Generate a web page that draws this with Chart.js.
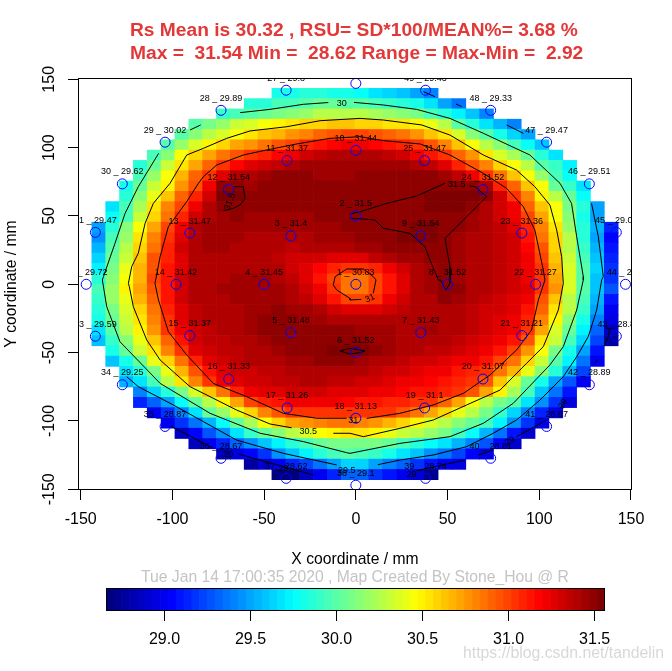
<!DOCTYPE html>
<html>
<head>
<meta charset="utf-8">
<title>Rs Map</title>
<script src="https://cdn.jsdelivr.net/npm/chart.js@4/dist/chart.umd.min.js"></script>
<style>
    html, body { margin: 0; padding: 0; background: #fff; }
    #page { position: relative; width: 672px; height: 671px; overflow: hidden; font-family: "Liberation Sans", Arial, sans-serif; }
    canvas { position: absolute; left: 0; }
    #mapCanvas { top: 0; }
    #keyCanvas { top: 575px; }
    .note { position: absolute; white-space: pre; }
    #heading { left: 130px; top: 19px; font-size: 19.2px; font-weight: bold; line-height: 22.5px; color: #e23838; z-index: 2; }
    #stamp { left: 0; width: 710px; text-align: center; top: 568px; font-size: 15.7px; color: #c4c4c4; }
    #mark { left: 463px; top: 644px; font-size: 15.8px; color: #d8d8d8; }
</style>
</head>
<body>
<div id="page">
    <canvas id="mapCanvas" width="672" height="671"></canvas>
    <canvas id="keyCanvas" width="672" height="96"></canvas>
    <div class="note" id="heading"></div>
    <div class="note" id="stamp">Tue Jan 14 17:00:35 2020 , Map Created By Stone_Hou @ R</div>
    <div class="note" id="mark">https://blog.csdn.net/tandelin</div>
</div>
<script>
// ===== DATA =====
const titleLines = [
    'Rs Mean is 30.32 , RSU= SD*100/MEAN%= 3.68 %',
    'Max =  31.54 Min =  28.62 Range = Max-Min =  2.92'
];

// Measured sites
const siteIds = [1,2,3,4,5,6,7,8,9,10,11,12,13,14,15,16,17,18,19,20,21,22,23,24,25,26,27,28,29,30,31,32,33,34,35,36,37,38,39,40,41,42,43,44,45,46,47,48,49];
const siteX = [0,0,-35.4,-50,-35.4,0,35.4,50,35.4,0,-37.5,-69.3,-90.5,-98,-90.5,-69.3,-37.5,0,37.5,69.3,90.5,98,90.5,69.3,37.5,0,-38,-73.5,-104,-127.3,-142,-147,-142,-127.3,-104,-73.5,-38,0,38,73.5,104,127.3,142,147,142,127.3,104,73.5,38];
const siteY = [0,50,35.4,0,-35.4,-50,-35.4,0,35.4,98,90.5,69.3,37.5,0,-37.5,-69.3,-90.5,-98,-90.5,-69.3,-37.5,0,37.5,69.3,90.5,147,142,127.3,104,73.5,38,0,-38,-73.5,-104,-127.3,-142,-147,-142,-127.3,-104,-73.5,-38,0,38,73.5,104,127.3,142];
const siteRs = [30.83,31.5,31.4,31.45,31.48,31.52,31.43,31.52,31.54,31.44,31.37,31.54,31.47,31.42,31.37,31.33,31.26,31.13,31.1,31.07,31.21,31.27,31.36,31.52,31.47,29.6,29.8,29.89,30.02,29.62,29.47,29.72,29.59,29.25,28.87,28.67,28.62,29.1,28.74,28.81,28.87,28.89,28.8,28.9,29.03,29.51,29.47,29.33,29.43];

// Interpolated Rs map, top row to bottom row. rowStarts = first filled column of each row
const rowStarts = [14,12,10,8,7,6,5,4,4,3,3,2,2,1,1,1,1,1,1,1,1,1,1,1,1,2,2,3,3,4,4,5,6,7,8,10,12,14];
const cellRows = [
[29.8,29.82,29.85,29.85,29.83,29.8,29.75,29.7,29.65,29.58,29.5,29.4],
[29.84,29.88,29.93,29.97,30,30.03,30.02,30,29.98,29.95,29.92,29.87,29.8,29.68,29.52,29.38],
[29.9,29.95,30,30.05,30.1,30.15,30.2,30.25,30.27,30.27,30.25,30.22,30.2,30.15,30.08,29.97,29.85,29.73,29.58,29.43],
[29.98,30.1,30.2,30.3,30.38,30.44,30.5,30.55,30.58,30.6,30.62,30.62,30.6,30.58,30.56,30.53,30.5,30.42,30.25,30,29.85,29.7,29.55,29.42],
[30,30.15,30.28,30.38,30.47,30.55,30.62,30.68,30.75,30.82,30.9,30.96,30.98,30.98,30.95,30.92,30.85,30.75,30.65,30.52,30.35,30.12,29.98,29.82,29.65,29.5],
[30,30.2,30.38,30.5,30.6,30.7,30.78,30.88,30.95,31,31.08,31.14,31.18,31.2,31.2,31.18,31.14,31.08,31.03,30.95,30.82,30.65,30.45,30.28,30.12,29.95,29.78,29.6],
[29.97,30.15,30.45,30.58,30.7,30.85,30.97,31.05,31.1,31.18,31.24,31.3,31.35,31.39,31.42,31.42,31.4,31.37,31.3,31.22,31.12,31.03,30.92,30.75,30.55,30.38,30.22,30.03,29.85,29.68],
[29.87,30.03,30.3,30.52,30.7,30.9,31.05,31.18,31.25,31.3,31.37,31.42,31.43,31.44,31.45,31.45,31.45,31.44,31.43,31.44,31.42,31.37,31.25,31.1,30.97,30.8,30.6,30.43,30.28,30,29.9,29.72],
[29.93,30.2,30.43,30.68,30.9,31.02,31.25,31.38,31.42,31.45,31.47,31.47,31.47,31.46,31.46,31.46,31.47,31.47,31.47,31.47,31.47,31.47,31.45,31.35,31.2,31.03,30.85,30.65,30.43,30.2,29.97,29.78],
[29.8,30.02,30.3,30.5,30.78,30.97,31.2,31.48,31.5,31.46,31.47,31.47,31.47,31.47,31.47,31.47,31.47,31.47,31.47,31.47,31.48,31.49,31.49,31.5,31.5,31.5,31.4,31.1,30.9,30.65,30.43,30.05,29.92,29.7],
[29.87,30.15,30.42,30.62,30.9,31.1,31.3,31.52,31.52,31.47,31.47,31.47,31.47,31.47,31.47,31.47,31.48,31.48,31.48,31.49,31.49,31.5,31.52,31.53,31.53,31.53,31.5,31.3,31.03,30.82,30.48,30.27,30.03,29.78],
[29.7,29.95,30.22,30.52,30.8,31,31.22,31.4,31.51,31.5,31.48,31.47,31.47,31.47,31.47,31.47,31.48,31.49,31.49,31.49,31.49,31.5,31.51,31.52,31.52,31.52,31.5,31.42,31.3,31.2,30.9,30.65,30.43,30.1,29.88,29.5],
[29.78,29.95,30.33,30.6,30.88,31.1,31.3,31.42,31.46,31.47,31.46,31.45,31.45,31.45,31.46,31.47,31.48,31.49,31.5,31.5,31.5,31.51,31.51,31.51,31.51,31.49,31.45,31.4,31.3,31.2,31,30.72,30.45,30.12,29.8,29.48],
[29.5,29.88,30.15,30.45,30.73,31,31.2,31.38,31.43,31.45,31.45,31.44,31.43,31.43,31.43,31.44,31.45,31.46,31.47,31.48,31.49,31.5,31.5,31.52,31.52,31.5,31.47,31.44,31.4,31.35,31.27,31.08,30.8,30.55,30.2,29.85,29.55,29.15],
[29.47,29.95,30.2,30.52,30.8,31.03,31.25,31.42,31.45,31.45,31.43,31.42,31.41,31.4,31.4,31.42,31.44,31.45,31.46,31.47,31.48,31.5,31.52,31.54,31.53,31.48,31.45,31.42,31.39,31.36,31.3,31.15,30.85,30.58,30.25,29.88,29.52,29.05],
[29.55,29.98,30.25,30.58,30.88,31.08,31.3,31.42,31.44,31.43,31.42,31.41,31.4,31.38,31.37,31.38,31.4,31.4,31.42,31.44,31.46,31.48,31.47,31.48,31.51,31.51,31.46,31.42,31.38,31.35,31.3,31.18,30.95,30.6,30.28,29.92,29.55,29.1],
[29.62,30.03,30.33,30.63,30.95,31.1,31.28,31.4,31.42,31.42,31.42,31.41,31.38,31.35,31.33,31.3,31.3,31.28,31.25,31.28,31.35,31.42,31.44,31.46,31.49,31.51,31.46,31.42,31.38,31.35,31.3,31.2,31,30.65,30.32,29.95,29.58,29.15],
[29.72,30.08,30.4,30.66,30.97,31.12,31.28,31.38,31.4,31.41,31.42,31.42,31.42,31.38,31.32,31.25,31.18,31.08,31.02,31.02,31.1,31.22,31.33,31.4,31.46,31.5,31.46,31.42,31.38,31.34,31.3,31.22,31.02,30.68,30.35,29.98,29.62,29.2],
[29.85,30.15,30.45,30.68,31,31.15,31.3,31.38,31.41,31.42,31.43,31.44,31.44,31.42,31.35,31.25,31.12,30.98,30.87,30.87,30.98,31.15,31.28,31.38,31.45,31.5,31.46,31.42,31.38,31.34,31.3,31.24,31.04,30.72,30.35,30,29.6,29.2],
[29.95,30.2,30.48,30.7,30.95,31.12,31.3,31.38,31.42,31.43,31.44,31.45,31.45,31.44,31.4,31.3,31.2,31.05,30.88,30.88,31,31.15,31.28,31.38,31.43,31.48,31.47,31.42,31.38,31.35,31.31,31.25,31.05,30.75,30.35,30,29.6,29.25],
[29.92,30.18,30.42,30.66,30.92,31.12,31.3,31.38,31.41,31.42,31.43,31.44,31.45,31.44,31.42,31.36,31.27,31.12,31,31,31.05,31.2,31.3,31.38,31.42,31.47,31.45,31.4,31.36,31.33,31.28,31.2,30.97,30.62,30.28,29.95,29.55,29.1],
[29.87,30.1,30.35,30.6,30.88,31.08,31.28,31.35,31.39,31.41,31.42,31.44,31.46,31.47,31.46,31.44,31.4,31.33,31.27,31.25,31.27,31.32,31.36,31.39,31.41,31.42,31.4,31.37,31.33,31.29,31.25,31.15,30.9,30.55,30.25,29.9,29.5,29],
[29.8,30.05,30.3,30.55,30.82,31.03,31.25,31.35,31.38,31.4,31.42,31.45,31.47,31.48,31.47,31.46,31.44,31.42,31.41,31.41,31.41,31.41,31.41,31.41,31.41,31.41,31.38,31.35,31.3,31.26,31.22,31.1,30.82,30.48,30.15,29.8,29.42,28.95],
[29.7,29.98,30.25,30.5,30.78,31.02,31.22,31.32,31.36,31.38,31.41,31.45,31.47,31.48,31.48,31.48,31.48,31.47,31.47,31.46,31.45,31.43,31.42,31.42,31.43,31.42,31.38,31.34,31.3,31.25,31.2,31.05,30.7,30.38,30.05,29.72,29.32,28.85],
[29.6,29.9,30.12,30.42,30.65,30.92,31.12,31.3,31.34,31.37,31.39,31.42,31.45,31.47,31.49,31.5,31.5,31.51,31.51,31.49,31.46,31.43,31.42,31.42,31.42,31.38,31.34,31.3,31.26,31.2,31.12,30.97,30.55,30.3,29.95,29.62,29.22,28.78],
[29.8,30.03,30.3,30.55,30.82,31.03,31.25,31.32,31.35,31.37,31.39,31.42,31.45,31.47,31.49,31.5,31.52,31.55,31.53,31.48,31.44,31.41,31.39,31.37,31.34,31.3,31.27,31.22,31.15,31,30.78,30.45,30.1,29.82,29.48,29.08],
[29.6,29.82,30.03,30.42,30.6,30.87,31.1,31.28,31.32,31.35,31.38,31.4,31.42,31.44,31.46,31.47,31.47,31.47,31.45,31.42,31.38,31.35,31.33,31.3,31.27,31.24,31.2,31.13,31,30.85,30.6,30.3,30,29.72,29.38,28.98],
[29.7,29.87,30.1,30.42,30.68,30.95,31.12,31.26,31.3,31.33,31.35,31.37,31.39,31.41,31.42,31.41,31.4,31.38,31.35,31.32,31.29,31.26,31.23,31.2,31.15,31.1,31.03,30.87,30.68,30.42,30.13,29.85,29.55,29.22],
[29.55,29.7,29.95,30.25,30.55,30.8,31.03,31.2,31.26,31.3,31.33,31.35,31.37,31.38,31.38,31.36,31.35,31.33,31.3,31.27,31.24,31.2,31.17,31.13,31.09,31.05,30.97,30.62,30.38,30.05,29.83,29.52,29.25,28.98],
[29.42,29.62,29.85,30.1,30.38,30.62,30.87,31.07,31.22,31.27,31.28,31.3,31.3,31.3,31.28,31.27,31.25,31.22,31.2,31.18,31.15,31.12,31.08,31.03,30.93,30.7,30.48,30.22,29.95,29.6,29.38,29.1],
[29.15,29.3,29.5,29.78,30.02,30.28,30.5,30.72,31,31.08,31.15,31.2,31.22,31.22,31.2,31.17,31.15,31.12,31.1,31.08,31.05,31.02,30.9,30.7,30.45,30.25,30.1,29.98,29.7,29.45,29.18,28.95],
[29,29.2,29.42,29.68,30.02,30.2,30.4,30.6,30.82,30.97,31.03,31.05,31.05,31.04,31.03,31.03,31.03,31.02,30.97,30.88,30.72,30.57,30.4,30.25,30.1,29.9,29.65,29.42,29.15,28.95],
[29,29.18,29.38,29.55,29.78,30.05,30.22,30.45,30.6,30.7,30.78,30.82,30.85,30.85,30.83,30.78,30.68,30.58,30.48,30.35,30.25,30.15,30.05,29.95,29.72,29.45,29.2,28.97],
[28.85,29.05,29.25,29.45,29.7,29.92,30.03,30.15,30.25,30.35,30.45,30.5,30.52,30.52,30.5,30.42,30.33,30.25,30.17,30.1,29.97,29.75,29.55,29.35,29.1,28.93],
[28.85,29.02,29.15,29.3,29.45,29.6,29.72,29.85,29.95,30.03,30.08,30.1,30.1,30.08,30.02,29.95,29.87,29.78,29.68,29.55,29.42,29.25,29.05,28.92],
[28.8,28.95,29.05,29.2,29.45,29.6,29.72,29.85,29.95,30,29.97,29.9,29.8,29.68,29.58,29.47,29.35,29.22,29.05,28.95],
[28.78,28.92,29.02,29.12,29.22,29.38,29.5,29.62,29.62,29.5,29.42,29.32,29.18,29.1,29.02,28.95],
[28.68,28.7,28.88,29.02,29.15,29.3,29.3,29.18,29.08,28.98,28.9,28.72]
];

// Contour lines in mm; [NaN, NaN] leaves the gap for a contour label
const contour30 = [[-63.1,125.6],[-46.8,128],[-28.6,131.7],[-15,133],[NaN,NaN],[-1,133.1],[15,131.2],[33.1,128],[51.3,121.4],[69.5,110.5],[94.9,94.6],[111.3,73.9],[117.6,59.2],[120.4,34.8],[124,5.6],[124,3.2],[120.4,-18.8],[113.1,-45.6],[105.8,-59],[85.8,-87.1],[69.5,-101.7],[51.3,-111.5],[24,-116.4],[-3.2,-123.7],[-5,-123.2],[-28.6,-115.1],[-52.2,-109],[-79.5,-94.4],[-106.7,-72.5],[-128.6,-42],[-135.8,-16.4],[-138.2,3.2],[-137.6,5.6],[-131.3,30],[-125.8,51.9],[-118.6,71.4],[-107.5,95.8]];
const contour30Edge = [[-90.4,112.9],[-84.6,116.6]];
const contour305 = [[-124,0.7],[-122.2,12.9],[-118.6,22.7],[-114.9,44.6],[-110.4,59.2],[-101.3,73.9],[-92.2,94.6],[-83.1,99.5],[-70.4,106.8],[-57.7,112.2],[-37.7,115.3],[-19.5,119.7],[2.3,121.4],[15,120.2],[35.9,116.6],[51.3,109.2],[69.5,94.6],[87.6,83.6],[97.6,71.4],[105.8,58],[109.5,39.7],[112.2,20.2],[113.1,0.7],[110.4,-18.8],[102.2,-45.6],[93.1,-57.8],[78.6,-77.4],[60.4,-88.3],[42.2,-99.3],[24,-105.4],[4.1,-111.5],[-3.2,-109],[-12.3,-109],[NaN,NaN],[-35,-105],[-46.8,-102.2],[-65,-92],[-79.5,-82.2],[-90.4,-74.9],[-106.7,-55.4],[-114,-40.7],[-121.3,-16.4],[-123.5,-1.7],[-124,0.7]];
const contour31 = [[-109.5,0.7],[-106.7,20.2],[-102.2,42.2],[-92.2,60.5],[-85.8,73.9],[-83.1,78.8],[-75.8,87.3],[-61.3,94.6],[-48.6,98.3],[-32.2,102.7],[-14.1,106.8],[2.3,108],[15,105.1],[35,102.7],[51.3,94.6],[69.5,81.2],[82.2,70.2],[91.3,56.8],[97.6,39.7],[102.2,10.5],[103.1,3.2],[99.5,-11.5],[95.8,-33.4],[87.6,-48.1],[73.1,-66.4],[58.6,-79.8],[42.2,-88.3],[24,-94.4],[5.9,-98.1],[NaN,NaN],[-5,-98],[-21.3,-98],[-39.5,-94.4],[-59.5,-82.2],[-77.7,-72.5],[-92.2,-51.7],[-102.2,-34.7],[-107.6,-11.5],[-109.5,0.7]];
const contour31Centre = [[-3.2,11.2],[-5,11.2],[-11.3,5.6],[-12.3,-0.5],[-10.4,-4.2],[-3.2,-10.3],[-3.2,-11.5],[3,-11],[NaN,NaN],[9.5,-6.6],[11,3.2],[9.5,5.6],[4.1,11.2],[-3.2,11.2]];
const contour315Spot = [[-66.4,71.4],[-61.3,71.4],[-60.4,62.9],[-63.1,58],[-66.8,55.6],[-72.2,53.9]];
const contour315Band = [[-3.2,51.4],[2.3,53.1],[16.8,59.2],[33.1,64.6],[48.6,73.9],[NaN,NaN],[62,72],[65,71.4],[71.3,64.1],[48.6,33.6],[51.3,12.9],[51.3,0.7],[49,-4.2],[46.2,3.2],[45,3.1],[40.4,17.8],[37.7,27.5],[29.5,37.3],[15,41],[10.4,47],[4.1,47.8],[-3.2,48.3]];
const contour315Low = [[-8.6,-48.8],[-3.2,-46.9],[2.2,-48.1],[5,-48.8],[2.2,-50],[-3.2,-51],[-8.6,-48.8]];
const contour295A = [[36.8,141],[43.1,137.3]];
const contour295B = [[54.6,131.9],[57.7,130]];
const contour295C = [[82.2,116.6],[91.3,110.5]];
const contour295D = [[128.5,59.2],[132.2,34.8],[134.9,5.6],[134,3.2],[131.3,-18.8],[126.7,-38.3],[120.4,-53],[113.1,-67.6],[100.4,-84.7],[87.6,-99.3],[74.9,-109],[60.4,-118.8],[42.2,-124.9],[24,-128.6],[12,-132]];
const contour295E = [[-10.4,-132.2],[-39.5,-123.7],[-65,-114],[-83.1,-100.5],[-99.5,-88.3],[-118.6,-74.9],[-124.9,-67.6]];
const contour29Pieces = [
    [[136.3,-32.2],[138.5,-32.2],[137.6,-38.3],[135.3,-44.9]],
    [[131.6,-55.4],[130.4,-57.8]],
    [[114,-85.9],[111.3,-90.7]],
    [[104,-99.3],[87.6,-111.5]],
    [[74.9,-121.2],[66.8,-124.9]],
    [[59.5,-128.6],[33.1,-136.4]],
    [[-101.3,-103.4],[-77.7,-120]],
    [[-64,-124.2],[-23.2,-139.5]]
];
const contourTexts = ['30','30.5','31','31','31.5','31.5','29.5','29','29','29','29','29'];
const contourTextX = [-7.7,-25.9,7.7,-1.4,-68.6,55,-5,-69.5,-39.5,30.4,84,113];
const contourTextY = [132.4,-107.8,-10.3,-99.8,60.5,72.7,-136,-124.2,-135,-139,-115,-87.6];
const contourTextTurn = [0,0,-25,0,-70,0,0,0,0,0,-30,-60];

const axisTicks = [-150,-100,-50,0,50,100,150];
const keyTicks = [29,29.5,30,30.5,31,31.5];

// ===== COLOUR KEY =====
const keyMin = 28.66;
const keyMax = 31.56;
const keyLevels = 64;
const jetStops = ['#00007F','#0000FF','#007FFF','#00FFFF','#7FFF7F','#FFFF00','#FF7F00','#FF0000','#7F0000'];

function hexToRgb(hex) {
    return [1, 3, 5].map(p => parseInt(hex.substr(p, 2), 16));
}

const keyColors = [];
for (let k = 0; k < keyLevels; k++) {
    const pos = k / (keyLevels - 1) * (jetStops.length - 1);
    const low = Math.min(Math.floor(pos), jetStops.length - 2);
    const a = hexToRgb(jetStops[low]);
    const b = hexToRgb(jetStops[low + 1]);
    const f = pos - low;
    const rgb = a.map((c, n) => Math.round(c + (b[n] - c) * f));
    keyColors.push('rgb(' + rgb.join(',') + ')');
}

function colorFor(v) {
    const k = Math.floor((v - keyMin) / (keyMax - keyMin) * keyLevels);
    return keyColors[Math.max(0, Math.min(keyLevels - 1, k))];
}

// ===== CHART SETUP =====
const FONT = '"Liberation Sans", Arial, sans-serif';
const xMin = -151.47, xMax = 150.55;
const yMin = -150.51, yMax = 150.95;
const gridCount = 40;
const xStep = (xMax - xMin) / gridCount;
const yStep = (yMax - yMin) / gridCount;

document.getElementById('heading').textContent = titleLines.join('\n');

const cellData = [];
const cellColors = [];
cellRows.forEach((row, r) => {
    const yMid = yMax - yStep * (r + 1.5);
    row.forEach((v, c) => {
        cellData.push({ x: xMin + xStep * (rowStarts[r] + c + 0.5), y: [yMid - yStep / 2, yMid + yStep / 2] });
        cellColors.push(colorFor(v));
    });
});

function toPoints(list) {
    return list.map(p => ({ x: p[0], y: p[1] }));
}

function contourDataset(list) {
    return {
        type: 'scatter',
        data: toPoints(list),
        showLine: true,
        spanGaps: false,
        borderColor: '#000',
        borderWidth: 1,
        pointRadius: 0,
        tension: 0,
        order: 1
    };
}

const contourLists = [contour30, contour30Edge, contour305, contour31, contour31Centre, contour315Spot, contour315Band, contour315Low, contour295A, contour295B, contour295C, contour295D, contour295E].concat(contour29Pieces);

// Site captions, contour captions and the box round the plot
const mapTextPlugin = {
    id: 'mapText',
    afterDatasetsDraw(chart) {
        const { ctx, chartArea, scales } = chart;
        ctx.save();
        ctx.beginPath();
        ctx.rect(chartArea.left, chartArea.top, chartArea.width, chartArea.height);
        ctx.clip();
        ctx.fillStyle = '#000';
        ctx.font = '9px ' + FONT;
        ctx.textAlign = 'center';
        ctx.textBaseline = 'middle';
        siteIds.forEach((id, i) => {
            ctx.fillText(id + ' _ ' + siteRs[i], scales.x.getPixelForValue(siteX[i]), scales.y.getPixelForValue(siteY[i]) - 12);
        });
        contourTexts.forEach((t, i) => {
            ctx.save();
            ctx.translate(scales.x.getPixelForValue(contourTextX[i]), scales.y.getPixelForValue(contourTextY[i]));
            ctx.rotate(contourTextTurn[i] * Math.PI / 180);
            ctx.fillText(t, 0, 0);
            ctx.restore();
        });
        ctx.restore();
    }
};

const boxPlugin = {
    id: 'plotBox',
    afterDraw(chart) {
        const { ctx, chartArea } = chart;
        ctx.save();
        ctx.strokeStyle = '#000';
        ctx.lineWidth = 1;
        ctx.strokeRect(chartArea.left + 0.5, chartArea.top + 0.5, chartArea.width - 1, chartArea.height - 1);
        ctx.restore();
    }
};

new Chart(document.getElementById('mapCanvas'), {
    type: 'bar',
    data: {
        datasets: [
            {
                type: 'scatter',
                data: siteX.map((x, i) => ({ x: x, y: siteY[i] })),
                pointStyle: 'circle',
                pointRadius: 5,
                pointBackgroundColor: 'rgba(0,0,0,0)',
                pointBorderColor: '#0000ff',
                pointBorderWidth: 1,
                order: 0
            },
            ...contourLists.map(contourDataset),
            {
                type: 'bar',
                data: cellData,
                backgroundColor: cellColors,
                borderWidth: 0,
                barThickness: 13.85,
                grouped: false,
                order: 2
            }
        ]
    },
    options: {
        responsive: false,
        animation: false,
        events: [],
        layout: { padding: { left: 0, right: 40, top: 78, bottom: 102 } },
        plugins: {
            legend: { display: false },
            tooltip: { enabled: false }
        },
        scales: {
            x: {
                type: 'linear',
                min: xMin,
                max: xMax,
                offset: false,
                afterFit: axis => { axis.height = 79; },
                afterBuildTicks: axis => { axis.ticks = axisTicks.map(v => ({ value: v })); },
                grid: { drawOnChartArea: false, color: '#000', tickLength: 10, offset: false },
                border: { display: false },
                ticks: { color: '#000', font: { family: FONT, size: 16 }, maxRotation: 0, padding: 10 },
                title: { display: true, text: 'X coordinate / mm', color: '#000', font: { family: FONT, size: 15.7 }, padding: 0 }
            },
            y: {
                min: yMin,
                max: yMax,
                beginAtZero: false,
                afterFit: axis => { axis.width = 78; },
                afterBuildTicks: axis => { axis.ticks = axisTicks.map(v => ({ value: v })); },
                grid: { drawOnChartArea: false, color: '#000', tickLength: 10 },
                border: { display: false },
                ticks: { color: '#000', font: { family: FONT, size: 16 }, minRotation: 90, maxRotation: 90, padding: 2, align: 'center', crossAlign: 'center' },
                title: { display: true, text: 'Y coordinate / mm', color: '#000', font: { family: FONT, size: 15.7 }, padding: 2 }
            }
        }
    },
    plugins: [mapTextPlugin, boxPlugin]
});

const keyStep = (keyMax - keyMin) / keyLevels;

new Chart(document.getElementById('keyCanvas'), {
    type: 'bar',
    data: {
        datasets: [{
            data: keyColors.map((c, k) => ({ x: keyMin + keyStep * (k + 0.5), y: [0, 1] })),
            backgroundColor: keyColors,
            borderWidth: 0,
            barThickness: 7.8,
            grouped: false
        }]
    },
    options: {
        responsive: false,
        animation: false,
        events: [],
        layout: { padding: { left: 106, right: 67, top: 13, bottom: 0 } },
        plugins: { legend: { display: false }, tooltip: { enabled: false } },
        scales: {
            x: {
                type: 'linear',
                min: keyMin,
                max: keyMax,
                offset: false,
                afterFit: axis => { axis.height = 60; },
                afterBuildTicks: axis => { axis.ticks = keyTicks.map(v => ({ value: v })); },
                grid: { drawOnChartArea: false, color: '#000', tickLength: 10, offset: false },
                border: { display: false },
                ticks: { color: '#000', font: { family: FONT, size: 16 }, maxRotation: 0, padding: 9, callback: v => v.toFixed(1) }
            },
            y: { display: false, min: 0, max: 1 }
        }
    },
    plugins: [boxPlugin]
});
</script>
</body>
</html>
